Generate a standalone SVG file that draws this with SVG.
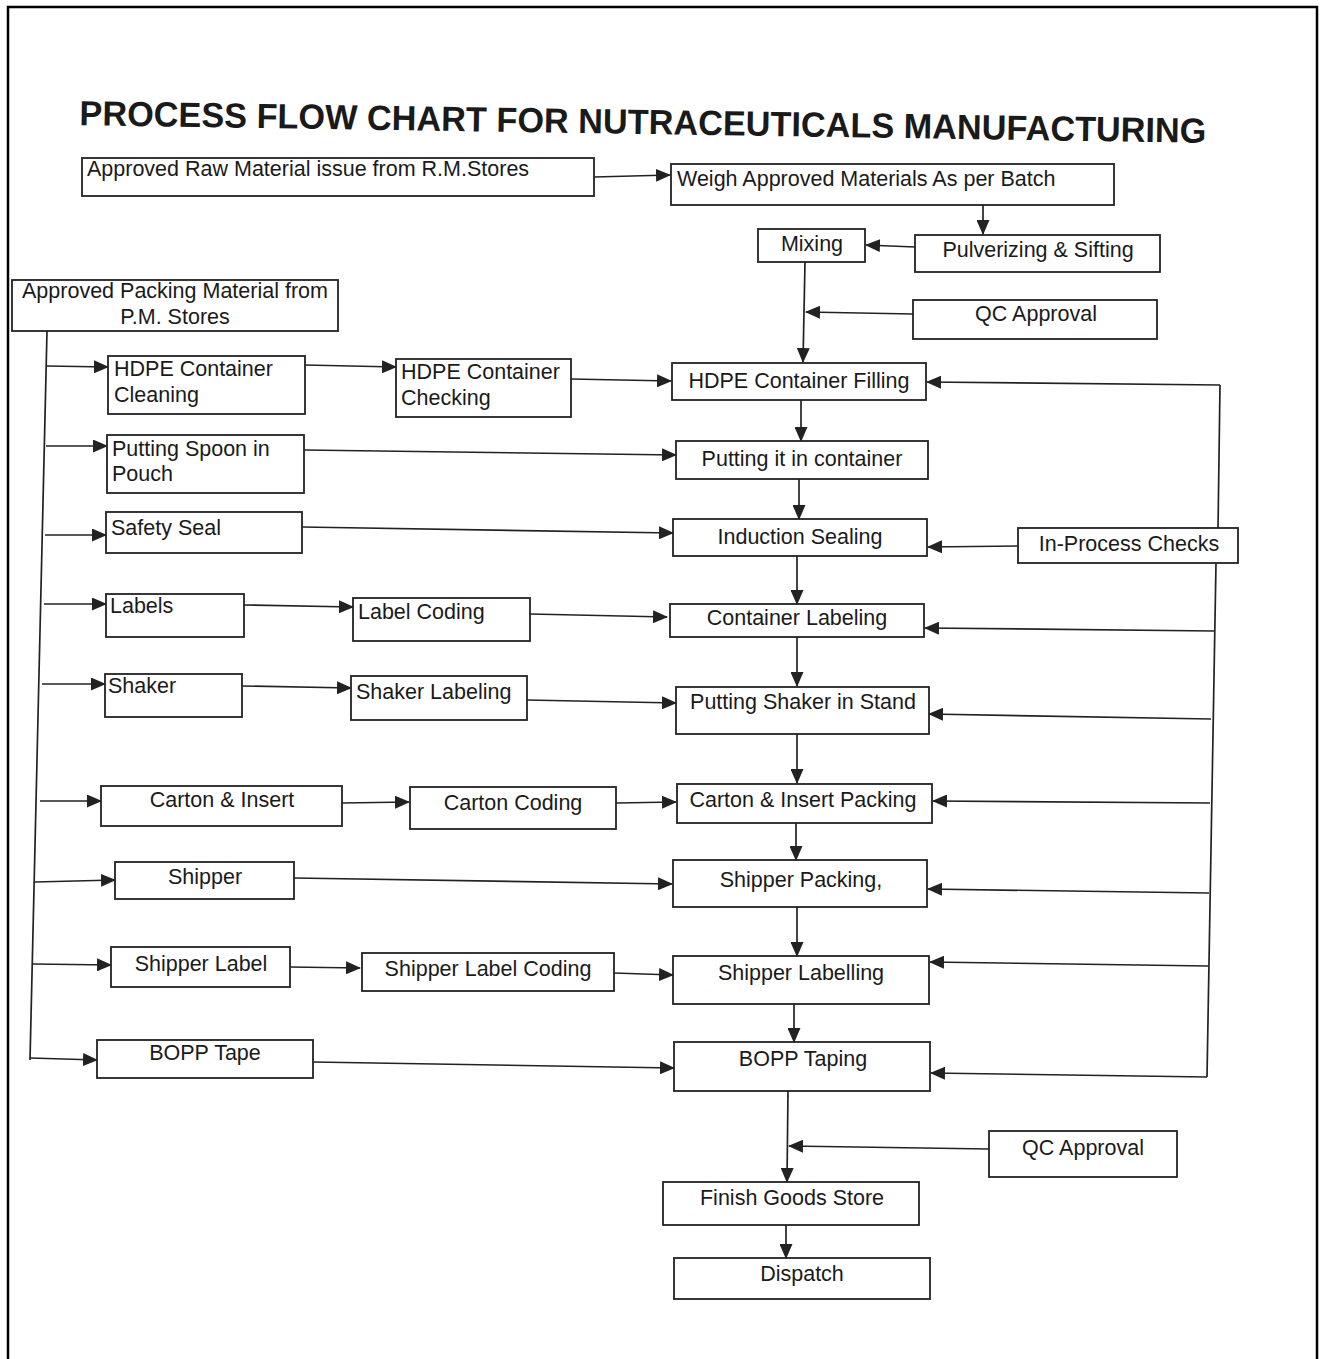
<svg xmlns="http://www.w3.org/2000/svg" width="1324" height="1359" viewBox="0 0 1324 1359">
<style>
.b{fill:#fff;stroke:#222;stroke-width:1.8}
.t{font-family:"Liberation Sans",Arial,sans-serif;font-size:21.5px;fill:#1a1a1a}
.c{text-anchor:middle}
.l{fill:none;stroke:#222;stroke-width:1.7}
.a{fill:none;stroke:#222;stroke-width:1.7;marker-end:url(#ah)}
</style>
<defs>
<marker id="ah" markerUnits="userSpaceOnUse" markerWidth="15" markerHeight="13" refX="14" refY="6.5" orient="auto">
<path d="M0,0 L15,6.5 L0,13 z" fill="#222"/>
</marker>
</defs>
<rect width="1324" height="1359" fill="#fff"/>
<path d="M8,1359 V7 H1317 V1359" fill="none" stroke="#000" stroke-width="2.5"/>
<text transform="rotate(0.9 643 121)" x="643" y="134" text-anchor="middle" font-family="'Liberation Sans',Arial,sans-serif" font-weight="bold" font-size="35" textLength="1127" lengthAdjust="spacingAndGlyphs" fill="#1a1a1a">PROCESS FLOW CHART FOR NUTRACEUTICALS MANUFACTURING</text>

<g id="connectors">
<line class="a" x1="594" y1="177" x2="670" y2="175"/>
<line class="a" x1="983" y1="205" x2="983" y2="234"/>
<line class="a" x1="915" y1="247" x2="866" y2="245"/>
<line class="a" x1="805" y1="262" x2="803" y2="362"/>
<line class="a" x1="913" y1="314" x2="806" y2="312"/>
<line class="l" x1="47" y1="331" x2="30" y2="1060"/>
<line class="a" x1="47" y1="366" x2="108" y2="367"/>
<line class="a" x1="305" y1="365" x2="396" y2="367"/>
<line class="a" x1="571" y1="379" x2="671" y2="381"/>
<polyline class="l" points="1220,385 1218,530"/>
<line class="a" x1="1220" y1="385" x2="927" y2="382"/>
<line class="a" x1="801" y1="400" x2="801" y2="441"/>
<line class="a" x1="46" y1="446" x2="107" y2="446"/>
<line class="a" x1="304" y1="450" x2="676" y2="455"/>
<line class="a" x1="799" y1="479" x2="799" y2="519"/>
<line class="a" x1="45" y1="535" x2="106" y2="535"/>
<line class="a" x1="302" y1="527" x2="673" y2="533"/>
<line class="a" x1="1018" y1="546" x2="928" y2="547"/>
<polyline class="l" points="1216,563 1207,1077"/>
<line class="a" x1="797" y1="556" x2="797" y2="604"/>
<line class="a" x1="44" y1="604" x2="106" y2="604"/>
<line class="a" x1="244" y1="605" x2="353" y2="607"/>
<line class="a" x1="530" y1="614" x2="667" y2="617"/>
<line class="a" x1="1214" y1="631" x2="925" y2="628"/>
<line class="a" x1="797" y1="637" x2="797" y2="686"/>
<line class="a" x1="42" y1="684" x2="105" y2="684"/>
<line class="a" x1="242" y1="686" x2="351" y2="688"/>
<line class="a" x1="527" y1="700" x2="676" y2="703"/>
<line class="a" x1="1211" y1="719" x2="929" y2="714"/>
<line class="a" x1="797" y1="734" x2="797" y2="783"/>
<line class="a" x1="40" y1="801" x2="101" y2="801"/>
<line class="a" x1="342" y1="803" x2="409" y2="802"/>
<line class="a" x1="616" y1="803" x2="676" y2="802"/>
<line class="a" x1="1210" y1="803" x2="933" y2="801"/>
<line class="a" x1="796" y1="823" x2="796" y2="860"/>
<line class="a" x1="35" y1="882" x2="115" y2="880"/>
<line class="a" x1="294" y1="878" x2="672" y2="884"/>
<line class="a" x1="1209" y1="893" x2="928" y2="889"/>
<line class="a" x1="797" y1="907" x2="797" y2="956"/>
<line class="a" x1="33" y1="964" x2="111" y2="965"/>
<line class="a" x1="290" y1="967" x2="360" y2="968"/>
<line class="a" x1="614" y1="973" x2="673" y2="975"/>
<line class="a" x1="1208" y1="966" x2="930" y2="962"/>
<line class="a" x1="794" y1="1004" x2="794" y2="1042"/>
<line class="a" x1="30" y1="1058" x2="97" y2="1060"/>
<line class="a" x1="313" y1="1062" x2="674" y2="1068"/>
<line class="a" x1="1207" y1="1077" x2="931" y2="1073"/>
<line class="a" x1="788" y1="1091" x2="787" y2="1182"/>
<line class="a" x1="989" y1="1149" x2="789" y2="1146"/>
<line class="a" x1="786" y1="1225" x2="786" y2="1258"/>
</g>

<g id="raw-material"><rect class="b" x="82" y="158" width="512" height="38"/><text class="t" x="87" y="176">Approved Raw Material issue from R.M.Stores</text></g>
<g id="weigh"><rect class="b" x="671" y="164" width="443" height="41"/><text class="t" x="677" y="186">Weigh Approved Materials As per Batch</text></g>
<g id="mixing"><rect class="b" x="758" y="229" width="107" height="33"/><text class="t c" x="812" y="251">Mixing</text></g>
<g id="pulverizing"><rect class="b" x="915" y="235" width="245" height="37"/><text class="t c" x="1038" y="257">Pulverizing &amp; Sifting</text></g>
<g id="qc-approval-1"><rect class="b" x="913" y="300" width="244" height="39"/><text class="t c" x="1036" y="321">QC Approval</text></g>
<g id="packing-material"><rect class="b" x="12" y="280" width="326" height="51"/><text class="t c" x="175" y="298">Approved Packing Material from</text><text class="t c" x="175" y="324">P.M. Stores</text></g>
<g id="hdpe-cleaning"><rect class="b" x="108" y="356" width="197" height="58"/><text class="t" x="114" y="376">HDPE Container</text><text class="t" x="114" y="402">Cleaning</text></g>
<g id="hdpe-checking"><rect class="b" x="396" y="359" width="175" height="58"/><text class="t" x="401" y="379">HDPE Container</text><text class="t" x="401" y="405">Checking</text></g>
<g id="hdpe-filling"><rect class="b" x="672" y="363" width="254" height="37"/><text class="t c" x="799" y="388">HDPE Container Filling</text></g>
<g id="spoon-pouch"><rect class="b" x="107" y="435" width="197" height="58"/><text class="t" x="112" y="456">Putting Spoon in</text><text class="t" x="112" y="481">Pouch</text></g>
<g id="putting-container"><rect class="b" x="676" y="441" width="252" height="38"/><text class="t c" x="802" y="466">Putting it in container</text></g>
<g id="safety-seal"><rect class="b" x="106" y="512" width="196" height="41"/><text class="t" x="111" y="535">Safety Seal</text></g>
<g id="induction-sealing"><rect class="b" x="673" y="519" width="254" height="37"/><text class="t c" x="800" y="544">Induction Sealing</text></g>
<g id="in-process-checks"><rect class="b" x="1018" y="528" width="220" height="35"/><text class="t c" x="1129" y="551">In-Process Checks</text></g>
<g id="labels"><rect class="b" x="106" y="594" width="138" height="43"/><text class="t" x="110" y="613">Labels</text></g>
<g id="label-coding"><rect class="b" x="353" y="598" width="177" height="43"/><text class="t" x="358" y="619">Label Coding</text></g>
<g id="container-labeling"><rect class="b" x="670" y="604" width="254" height="33"/><text class="t c" x="797" y="625">Container Labeling</text></g>
<g id="shaker"><rect class="b" x="105" y="674" width="137" height="43"/><text class="t" x="108" y="693">Shaker</text></g>
<g id="shaker-labeling"><rect class="b" x="351" y="676" width="176" height="44"/><text class="t" x="356" y="699">Shaker Labeling</text></g>
<g id="shaker-stand"><rect class="b" x="676" y="687" width="253" height="47"/><text class="t c" x="803" y="709">Putting Shaker in Stand</text></g>
<g id="carton-insert"><rect class="b" x="101" y="786" width="241" height="40"/><text class="t c" x="222" y="807">Carton &amp; Insert</text></g>
<g id="carton-coding"><rect class="b" x="410" y="787" width="206" height="42"/><text class="t c" x="513" y="810">Carton Coding</text></g>
<g id="carton-packing"><rect class="b" x="677" y="784" width="255" height="39"/><text class="t c" x="803" y="807">Carton &amp; Insert Packing</text></g>
<g id="shipper"><rect class="b" x="115" y="862" width="179" height="37"/><text class="t c" x="205" y="884">Shipper</text></g>
<g id="shipper-packing"><rect class="b" x="673" y="860" width="254" height="47"/><text class="t c" x="801" y="887">Shipper Packing,</text></g>
<g id="shipper-label"><rect class="b" x="111" y="947" width="179" height="40"/><text class="t c" x="201" y="971">Shipper Label</text></g>
<g id="shipper-label-coding"><rect class="b" x="362" y="953" width="252" height="38"/><text class="t c" x="488" y="976">Shipper Label Coding</text></g>
<g id="shipper-labelling"><rect class="b" x="673" y="956" width="256" height="48"/><text class="t c" x="801" y="980">Shipper Labelling</text></g>
<g id="bopp-tape"><rect class="b" x="97" y="1040" width="216" height="38"/><text class="t c" x="205" y="1060">BOPP Tape</text></g>
<g id="bopp-taping"><rect class="b" x="674" y="1042" width="256" height="49"/><text class="t c" x="803" y="1066">BOPP Taping</text></g>
<g id="qc-approval-2"><rect class="b" x="989" y="1131" width="188" height="46"/><text class="t c" x="1083" y="1155">QC Approval</text></g>
<g id="finish-goods"><rect class="b" x="663" y="1182" width="256" height="43"/><text class="t c" x="792" y="1205">Finish Goods Store</text></g>
<g id="dispatch"><rect class="b" x="674" y="1258" width="256" height="41"/><text class="t c" x="802" y="1281">Dispatch</text></g>
</svg>
